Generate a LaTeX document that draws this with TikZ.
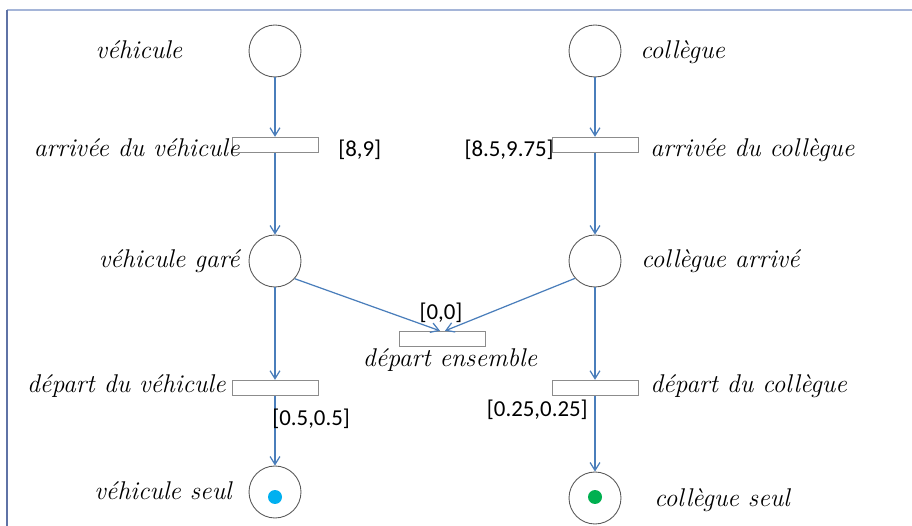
\documentclass[tikz,border=0pt]{standalone}
\usepackage{fontspec}
\newfontfamily\calib{Carlito}
\usetikzlibrary{positioning,arrows.meta}
\definecolor{ArcBlue}{HTML}{4A7EBB}
\definecolor{RimGray}{HTML}{595959}
\definecolor{BarGray}{HTML}{8C8C8C}
\definecolor{FrameTop}{HTML}{A5B5D8}
\definecolor{FrameLeft}{HTML}{5F73A6}
\definecolor{TokBlue}{HTML}{00B0F0}
\definecolor{TokGreen}{HTML}{00B050}
\tikzset{
  net place/.style={draw=RimGray,line width=.5pt,circle,fill=white,
    minimum size=1.04cm,inner sep=0pt},
  net transition/.style={draw=BarGray,line width=.5pt,fill=white,
    minimum width=1.72cm,minimum height=.31cm,inner sep=0pt},
  net arc/.style={->,>={Straight Barb[length=4.5pt,width=5.6pt]},line width=.7pt,draw=ArcBlue},
  net label/.style={font=\fontsize{14.6}{16}\selectfont\itshape,inner sep=0pt},
  net time/.style={font=\calib\fontsize{13}{15}\selectfont,inner sep=0pt},
  net token/.style={circle,inner sep=0pt,minimum size=.28cm}
}
\begin{document}
\begin{tikzpicture}[x=.02cm,y=-.02cm]
  \useasboundingbox (0,0) rectangle (912,526);
  \draw[FrameTop,line width=1.1pt] (7,10) -- (912,10);
  \draw[FrameLeft,line width=1.1pt] (7,10) -- (7,526);
  % places and transitions
  \node[net place] (veh) at (275,51) {};
  \node[net place] (col) at (595,51) {};
  \node[net transition] (arrV) at (275,145) {};
  \node[net transition] (arrC) at (595,145) {};
  \node[net place] (vgare) at (275,261) {};
  \node[net place] (carr) at (595,261) {};
  \node[net transition] (depE) at (442,339) {};
  \node[net transition] (depV) at (275,388) {};
  \node[net transition] (depC) at (595,388) {};
  \node[net place] (vseul) at (275,492) {};
  \node[net place] (cseul) at (595,498) {};
  \node[net token,fill=TokBlue] (tokV) at (275,497) {};
  \node[net token,fill=TokGreen] (tokC) at (595,497) {};
  % arcs
  \draw[net arc] (veh) -- (arrV);
  \draw[net arc] (arrV) -- (vgare);
  \draw[net arc] (vgare) -- (depV);
  \draw[net arc] (depV) -- (vseul);
  \draw[net arc] (col) -- (arrC);
  \draw[net arc] (arrC) -- (carr);
  \draw[net arc] (carr) -- (depC);
  \draw[net arc] (depC) -- (cseul);
  \draw[net arc] (vgare.-42) -- ([xshift=-.04cm]depE.north);
  \draw[net arc] (carr.-139) -- ([xshift=.06cm]depE.north);
  % names
  \node[net label,anchor=base] (lveh) at (139,59) {véhicule};
  \node[net label,anchor=base west] (lcol) at (640,59) {collègue};
  \node[net label,anchor=base east] (larrV) at (240,157) {arrivée du véhicule};
  \node[net label,anchor=base west] (larrC) at (650,157) {arrivée du collègue};
  \node[net label,anchor=base east] (lvgare) at (240,268) {véhicule garé};
  \node[net label,anchor=base west] (lcarr) at (641,268) {collègue arrivé};
  \node[net label,anchor=base] (ldepE) at (450,367) {départ ensemble};
  \node[net label,anchor=base east] (ldepV) at (226,393) {départ du véhicule};
  \node[net label,anchor=base west] (ldepC) at (650,393) {départ du collègue};
  \node[net label,anchor=base east] (lvseul) at (232,499) {véhicule seul};
  \node[net label,anchor=base west] (lcseul) at (654,506) {collègue seul};
  % intervals
  \node[net time,anchor=base west] (iarrV) at (338,157) {[8,9]};
  \node[net time,anchor=base east] (iarrC) at (554,157) {[8.5,9.75]};
  \node[net time,anchor=base] (idepE) at (441,320) {[0,0]};
  \node[net time,anchor=base west] (idepV) at (272,425) {[0.5,0.5]};
  \node[net time,anchor=base east] (idepC) at (588,417) {[0.25,0.25]};
\end{tikzpicture}
\end{document}
